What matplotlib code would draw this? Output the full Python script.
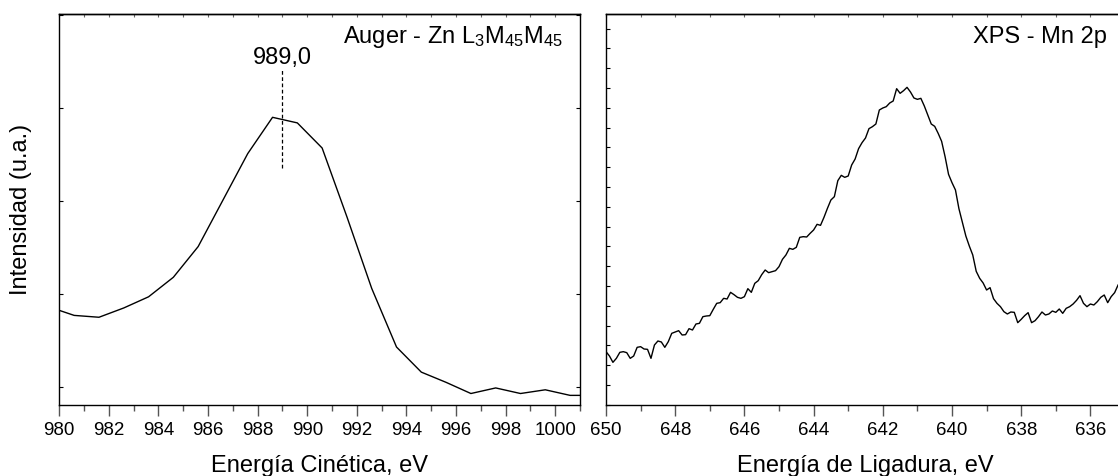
import numpy as np
import matplotlib
matplotlib.use("Agg")
import matplotlib.pyplot as plt
from matplotlib.ticker import MultipleLocator, FormatStrFormatter

plt.rcParams['font.family'] = ['Liberation Sans', 'DejaVu Sans']
plt.rcParams['mathtext.fontset'] = 'custom'
plt.rcParams['mathtext.rm'] = 'Liberation Sans'
plt.rcParams['mathtext.it'] = 'Liberation Sans:italic'
plt.rcParams['mathtext.default'] = 'regular'

# --- Auger Zn L3M45M45 (kinetic energy, eV ; intensity, a.u.) ---
auger_energy = [979.6, 980.6, 981.6, 982.6, 983.6, 984.6, 985.6, 986.6, 987.6,
                988.6, 989.6, 990.6, 991.6, 992.6, 993.6, 994.6, 995.6, 996.6,
                997.6, 998.6, 999.6, 1000.6, 1001.6]
auger_intensity = [0.86, 0.77, 0.75, 0.85, 0.97, 1.18, 1.51, 2.01, 2.51,
                   2.90, 2.84, 2.57, 1.83, 1.06, 0.43, 0.16, 0.05, -0.07,
                   -0.01, -0.07, -0.03, -0.09, -0.09]
auger_peak = 989.0
auger_peak_label = "989,0"

# --- XPS Mn 2p (binding energy, eV ; intensity, a.u.), 0.1 eV steps ---
xps_energy = np.linspace(650.0, 635.2, 149)
xps_intensity = [
    100, 87, 68, 80, 98, 100, 97, 80, 87, 113,
    115, 108, 107, 80, 120, 132, 129, 113, 130, 155,
    159, 163, 150, 151, 169, 165, 183, 185, 205, 207,
    208, 227, 245, 247, 260, 258, 278, 271, 263, 260,
    265, 289, 278, 305, 313, 331, 345, 337, 340, 343,
    355, 377, 390, 410, 407, 413, 443, 445, 444, 455,
    465, 482, 479, 503, 530, 555, 565, 613, 629, 623,
    627, 660, 678, 709, 727, 741, 769, 775, 783, 825,
    831, 835, 846, 852, 889, 875, 883, 893, 879, 861,
    857, 860, 837, 810, 783, 776, 755, 731, 685, 632,
    607, 585, 529, 488, 447, 417, 390, 341, 320, 306,
    285, 292, 259, 245, 235, 220, 213, 219, 218, 187,
    197, 208, 217, 187, 193, 205, 219, 210, 213, 222,
    218, 228, 215, 230, 235, 243, 254, 268, 245, 235,
    243, 240, 250, 263, 270, 247, 265, 277, 300,
]

W, H, DPI = 1118, 476, 100
fig = plt.figure(figsize=(W / DPI, H / DPI), dpi=DPI)

ax1 = fig.add_axes([59.3 / W, 71 / H, (580 - 59.3) / W, 391 / H])
ax2 = fig.add_axes([606 / W, 71 / H, 519 / W, 391 / H])

line_kw = dict(color='black', lw=1.0)
ax1.plot(auger_energy, auger_intensity, **line_kw)
ax2.plot(xps_energy, xps_intensity, **line_kw)

# peak marker
ax1.plot([auger_peak, auger_peak], [2.355, 3.42], color='black', lw=0.9,
         ls=(0, (3, 2)))
ax1.text(auger_peak, 3.47, auger_peak_label, ha='center', va='baseline',
         fontsize=17)

ax1.set_xlim(980, 1001)
ax1.set_ylim(-0.1935, 4.011)
ax2.set_xlim(650, 635)
ax2.set_ylim(-60, 1113)

ax1.text(0.968, 0.925, r"Auger - Zn L$_3$M$_{45}$M$_{45}$", transform=ax1.transAxes,
         ha='right', va='baseline', fontsize=17)
ax2.text(501 / 519, 0.925, "XPS - Mn 2p", transform=ax2.transAxes,
         ha='right', va='baseline', fontsize=17)

for ax in (ax1, ax2):
    for sp in ax.spines.values():
        sp.set_linewidth(1.0)
        sp.set_color('black')
    ax.xaxis.set_major_locator(MultipleLocator(2))
    ax.xaxis.set_minor_locator(MultipleLocator(1))
    ax.xaxis.set_major_formatter(FormatStrFormatter('%d'))
    ax.tick_params(axis='x', which='major', direction='out', length=8,
                   width=1.0, color='#555555', labelsize=13.5, pad=4)
    ax.tick_params(axis='x', which='minor', direction='out', length=4,
                   width=1.0, color='#555555')
    ax.tick_params(axis='y', which='both', direction='in', length=3,
                   width=0.8, left=True, right=True, labelleft=False)
    top = ax.secondary_xaxis('top')
    top.xaxis.set_major_locator(MultipleLocator(1))
    top.tick_params(direction='in', length=2.5, width=0.8, color='#666666',
                    labeltop=False)
    top.spines['top'].set_linewidth(1.0)

ax1.yaxis.set_major_locator(MultipleLocator(1))
ax2.yaxis.set_major_locator(MultipleLocator(59.4))

ax1.set_xlabel("Energía Cinética, eV", fontsize=17)
ax2.set_xlabel("Energía de Ligadura, eV", fontsize=17)
for ax in (ax1, ax2):
    ax.xaxis.label.set_va('baseline')
    ax.xaxis.set_label_coords(0.5, -(472 - 405) / 391)

ax1.set_ylabel("Intensidad (u.a.)", fontsize=17)
ax1.yaxis.set_label_coords(-(59.3 - 21) / 520.7, 0.5)
ax1.yaxis.label.set_va('center')

fig.savefig("out.png", dpi=DPI)
